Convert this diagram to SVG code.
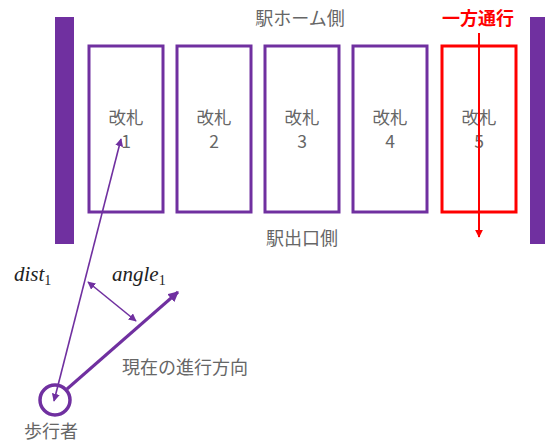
<svg xmlns="http://www.w3.org/2000/svg" width="545" height="443" viewBox="0 0 545 443">
<defs>
<style>
.bar{fill:#7030A0}
.gate{fill:#fff;stroke:#7030A0;stroke-width:3}
.t{font-family:"Noto Sans CJK JP","Noto Sans",sans-serif;font-size:18px;fill:#666;text-anchor:middle}
.g{font-size:17.5px}
.m{font-family:"Liberation Serif",serif;font-style:italic;font-size:21px;fill:#222}
.thin{stroke:#7030A0;stroke-width:1.6;fill:none}
</style>
<marker id="ap" viewBox="0 0 10 10" refX="9" refY="5" markerWidth="5" markerHeight="5" orient="auto-start-reverse" markerUnits="strokeWidth"><path d="M0,0 L10,5 L0,10 z" fill="#7030A0"/></marker>
<marker id="apb" viewBox="0 0 10 10" refX="9" refY="5" markerWidth="3.5" markerHeight="3.5" orient="auto" markerUnits="strokeWidth"><path d="M0,0 L10,5 L0,10 z" fill="#7030A0"/></marker>
<marker id="ar" viewBox="0 0 10 10" refX="9" refY="5" markerWidth="4" markerHeight="4" orient="auto" markerUnits="strokeWidth"><path d="M0,0 L10,5 L0,10 z" fill="#FF0000"/></marker>
</defs>
<rect width="545" height="443" fill="#fff"/>
<g id="wall-left"><rect class="bar" x="55" y="17" width="19" height="227"/></g>
<g id="wall-right"><rect class="bar" x="530" y="17" width="15" height="227"/></g>
<g id="label-home"><text class="t" x="300" y="25">駅ホーム側</text></g>
<g id="label-exit"><text class="t" x="302" y="245">駅出口側</text></g>
<g id="label-oneway"><text x="478" y="25" text-anchor="middle" font-family="Noto Sans CJK JP,sans-serif" font-size="18" font-weight="bold" fill="#FF0000">一方通行</text></g>
<g id="gate1"><rect class="gate" x="89" y="46" width="74" height="166"/><text class="t g" x="126" y="124">改札</text><text class="t g" x="126" y="148">1</text></g>
<g id="gate2"><rect class="gate" x="177" y="46" width="74" height="166"/><text class="t g" x="214" y="124">改札</text><text class="t g" x="214" y="148">2</text></g>
<g id="gate3"><rect class="gate" x="265" y="46" width="74" height="166"/><text class="t g" x="302" y="124">改札</text><text class="t g" x="302" y="148">3</text></g>
<g id="gate4"><rect class="gate" x="353" y="46" width="74" height="166"/><text class="t g" x="390" y="124">改札</text><text class="t g" x="390" y="148">4</text></g>
<g id="gate5"><rect x="442" y="46" width="74" height="166" fill="#fff" stroke="#FF0000" stroke-width="3"/><text class="t g" x="479" y="124">改札</text><text class="t g" x="479" y="148">5</text></g>
<g id="walker"><circle cx="55" cy="400" r="15" fill="none" stroke="#7030A0" stroke-width="3.5"/><text class="t" x="51" y="438" font-size="17">歩行者</text></g>
<g id="labels">
<text class="m" x="14" y="281">dist<tspan font-size="14" dy="4" font-style="normal">1</tspan></text>
<text class="m" x="112" y="281">angle<tspan font-size="14" dy="4" font-style="normal">1</tspan></text>
<text class="t" x="185" y="374">現在の進行方向</text>
</g>
<g id="connectors">
<line x1="479" y1="33" x2="479" y2="237" stroke="#FF0000" stroke-width="2" marker-end="url(#ar)"/>
<line class="thin" x1="54" y1="401" x2="121" y2="139" marker-start="url(#ap)" marker-end="url(#ap)"/>
<line class="thin" x1="88" y1="282" x2="136" y2="321" marker-start="url(#ap)" marker-end="url(#ap)"/>
<line x1="67" y1="389" x2="178" y2="292" stroke="#7030A0" stroke-width="3" marker-end="url(#apb)"/>
</g>
</svg>
